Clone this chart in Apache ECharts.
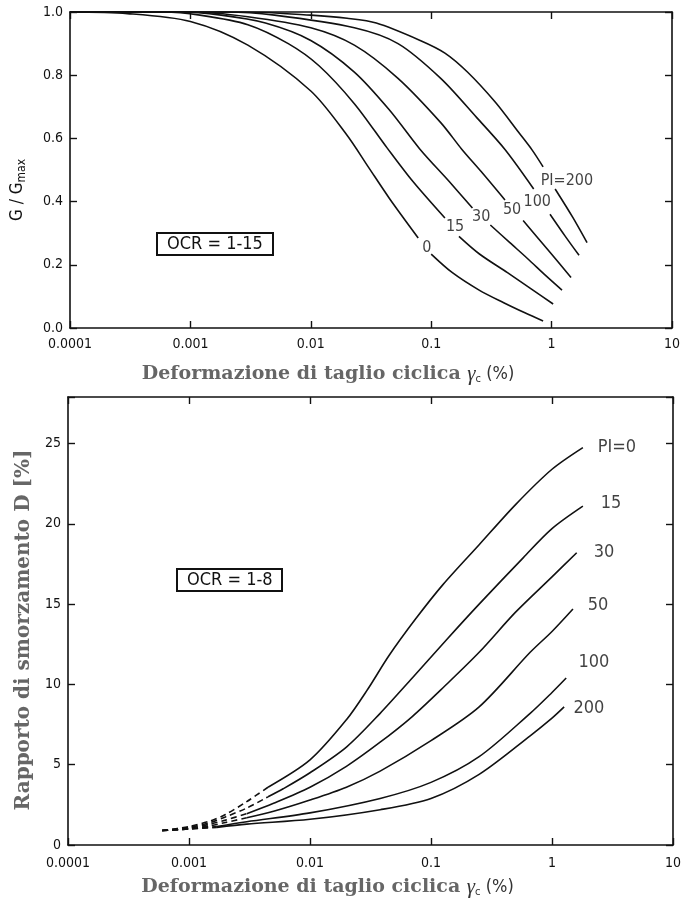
<!DOCTYPE html>
<html>
<head>
<meta charset="utf-8">
<script src="https://cdn.jsdelivr.net/npm/echarts@6/dist/echarts.min.js"></script>
<style>
  html, body { margin: 0; padding: 0; background: #fff; }
  #main { width: 690px; height: 907px; }
</style>
</head>
<body>
<div id="main"></div>
<script>
// asse x comune: deformazione di taglio ciclica (%)
var strainLabels = ['0.0001', '0.001', '0.01', '0.1', '1', '10'];

// --- G/Gmax (grafico in alto): tratto prima e dopo l'etichetta PI ---
var modPI0a = [[0.0001, 1.0], [0.0003, 0.995], [0.001, 0.97], [0.003, 0.895], [0.01, 0.75], [0.02, 0.61], [0.03, 0.51], [0.045, 0.41], [0.078, 0.285]];
var modPI0b = [[0.1, 0.234], [0.15, 0.175], [0.25, 0.12], [0.4, 0.08], [0.6, 0.048], [0.85, 0.022]];
var modPI15a = [[0.0001, 1.0], [0.0006, 1.0], [0.0012, 0.99], [0.003, 0.96], [0.0065, 0.90], [0.0117, 0.83], [0.023, 0.71], [0.043, 0.57], [0.07, 0.465], [0.13, 0.348]];
var modPI15b = [[0.17, 0.29], [0.25, 0.235], [0.43, 0.175], [0.7, 0.12], [1.03, 0.076]];
var modPI30a = [[0.0001, 1.0], [0.0008, 1.0], [0.0018, 0.99], [0.0042, 0.965], [0.01, 0.91], [0.023, 0.81], [0.045, 0.69], [0.081, 0.565], [0.14, 0.465], [0.22, 0.38]];
var modPI30b = [[0.31, 0.326], [0.45, 0.27], [0.63, 0.22], [0.9, 0.165], [1.22, 0.12]];
var modPI50a = [[0.0001, 1.0], [0.001, 1.0], [0.003, 0.985], [0.01, 0.95], [0.023, 0.895], [0.053, 0.79], [0.12, 0.65], [0.18, 0.565], [0.26, 0.495], [0.41, 0.405]];
var modPI50b = [[0.58, 0.34], [0.92, 0.25], [1.45, 0.16]];
var modPI100a = [[0.0001, 1.0], [0.002, 1.0], [0.005, 0.99], [0.023, 0.95], [0.053, 0.90], [0.12, 0.79], [0.24, 0.665], [0.41, 0.565], [0.71, 0.44]];
var modPI100b = [[0.97, 0.36], [1.3, 0.29], [1.69, 0.23]];
var modPI200a = [[0.0001, 1.0], [0.003, 1.0], [0.01, 0.99], [0.02, 0.98], [0.035, 0.965], [0.081, 0.91], [0.13, 0.87], [0.2, 0.81], [0.34, 0.715], [0.53, 0.62], [0.69, 0.563], [0.85, 0.51]];
var modPI200b = [[1.07, 0.44], [1.5, 0.35], [1.97, 0.27]];
var modLabels = ['0', '15', '30', '50', '100', 'PI=200'];
var modLabelAt = [[0.092, 0.253], [0.158, 0.32], [0.26, 0.351], [0.47, 0.373], [0.76, 0.40], [1.34, 0.465]];

// --- smorzamento D % (grafico in basso): tratto tratteggiato + continuo ---
var dampPI0a = [[0.0006, 0.9], [0.001, 1.15], [0.0015, 1.5], [0.002, 1.9], [0.003, 2.7], [0.0045, 3.6]];
var dampPI0b = [[0.0045, 3.6], [0.01, 5.3], [0.02, 7.8], [0.03, 9.7], [0.045, 11.8], [0.075, 14.1], [0.125, 16.2], [0.25, 18.7], [0.5, 21.2], [1.0, 23.4], [1.8, 24.75]];
var dampPI15a = [[0.0006, 0.9], [0.001, 1.1], [0.0015, 1.4], [0.002, 1.75], [0.003, 2.3], [0.0045, 3.0]];
var dampPI15b = [[0.0045, 3.0], [0.006, 3.5], [0.01, 4.5], [0.02, 6.1], [0.038, 8.2], [0.07, 10.4], [0.135, 12.8], [0.25, 15.0], [0.58, 17.9], [1.0, 19.7], [1.8, 21.1]];
var dampPI30a = [[0.0006, 0.9], [0.001, 1.05], [0.0015, 1.3], [0.002, 1.55], [0.003, 1.95]];
var dampPI30b = [[0.003, 1.95], [0.005, 2.6], [0.01, 3.6], [0.02, 4.9], [0.038, 6.4], [0.07, 8.0], [0.13, 9.9], [0.25, 12.0], [0.5, 14.5], [1.0, 16.7], [1.6, 18.2]];
var dampPI50a = [[0.0006, 0.9], [0.001, 1.0], [0.0015, 1.2], [0.002, 1.4], [0.003, 1.7]];
var dampPI50b = [[0.003, 1.7], [0.005, 2.1], [0.01, 2.8], [0.02, 3.6], [0.038, 4.6], [0.1, 6.5], [0.25, 8.6], [0.66, 12.0], [1.0, 13.3], [1.49, 14.7]];
var dampPI100a = [[0.0006, 0.9], [0.001, 1.0], [0.0017, 1.15]];
var dampPI100b = [[0.0017, 1.15], [0.003, 1.45], [0.01, 2.0], [0.038, 2.9], [0.1, 3.9], [0.25, 5.5], [0.66, 8.2], [1.0, 9.5], [1.31, 10.4]];
var dampPI200a = [[0.0006, 0.9], [0.001, 1.0], [0.0017, 1.1]];
var dampPI200b = [[0.0017, 1.1], [0.003, 1.3], [0.01, 1.6], [0.038, 2.2], [0.1, 2.9], [0.25, 4.4], [0.66, 6.8], [1.0, 7.9], [1.26, 8.6]];
var dampLabels = ['PI=0', '15', '30', '50', '100', '200'];
var dampLabelAt = [[3.44, 24.75], [3.07, 21.3], [2.69, 18.2], [2.4, 14.9], [2.22, 11.4], [2.02, 8.5]];

var tickFont = "'Liberation Sans Narrow', 'DejaVu Sans Condensed', 'Liberation Sans', sans-serif";
var titleFont = "'DejaVu Serif', 'Liberation Serif', serif";
var ink = '#111';

function strainLabel(v) {
  var i = Math.round(Math.log10(v)) + 4;
  return strainLabels[i] || '';
}

function logAxis(grid, pos, withLabel, margin) {
  return {
    type: 'log', logBase: 10, gridIndex: grid, position: pos,
    min: 0.0001, max: 10,
    axisLine: { show: true, onZero: false, lineStyle: { color: ink, width: 1.6 } },
    axisTick: { show: true, inside: true, length: 7, lineStyle: { color: ink, width: 1.4 } },
    minorTick: { show: false },
    splitLine: { show: false },
    axisLabel: { show: withLabel, formatter: strainLabel, color: ink, fontSize: 14, fontFamily: tickFont, margin: margin }
  };
}

function valAxis(grid, pos, max, step, fmt, withLabel) {
  return {
    type: 'value', gridIndex: grid, position: pos,
    min: 0, max: max, interval: step,
    axisLine: { show: true, onZero: false, lineStyle: { color: ink, width: 1.6 } },
    axisTick: { show: true, inside: true, length: 7, lineStyle: { color: ink, width: 1.4 } },
    splitLine: { show: false },
    axisLabel: { show: withLabel, formatter: fmt, color: ink, fontSize: 14, fontFamily: tickFont, margin: 7 }
  };
}

var xTitle = {
  t: { fontFamily: titleFont, fontWeight: 'bold', fontSize: 19, color: '#666' },
  g: { fontFamily: 'serif', fontStyle: 'italic', fontSize: 21, color: '#333' },
  s: { fontFamily: tickFont, fontSize: 11, color: '#333', padding: [11, 0, 0, 0] },
  p: { fontFamily: tickFont, fontSize: 18, color: '#333' }
};

var xAxes = [logAxis(0, 'bottom', true, 9), logAxis(0, 'top', false, 8), logAxis(1, 'bottom', true, 11), logAxis(1, 'top', false, 8)];
xAxes[0].name = '{t|Deformazione di taglio ciclica }{g|γ}{s|c}{p| (%)}';
xAxes[2].name = xAxes[0].name;
[0, 2].forEach(function (i) {
  xAxes[i].nameLocation = 'middle';
  xAxes[i].nameTextStyle = { rich: xTitle, padding: [0, 86, 0, 0] };
});
xAxes[0].nameGap = 35;
xAxes[2].nameGap = 31;

var yAxes = [
  valAxis(0, 'left', 1, 0.2, function (v) { return v.toFixed(1); }, true),
  valAxis(0, 'right', 1, 0.2, null, false),
  valAxis(1, 'left', 27.9, 5, function (v) { return v % 5 === 0 ? String(v) : ''; }, true),
  valAxis(1, 'right', 27.9, 5, null, false)
];
yAxes[0].name = 'G / G{s|max}';
yAxes[0].nameLocation = 'middle';
yAxes[0].nameGap = 42;
yAxes[0].nameTextStyle = {
  fontFamily: tickFont, fontSize: 17, color: ink, padding: [0, 40, 0, 0],
  rich: { s: { fontFamily: tickFont, fontSize: 12, color: ink, padding: [9, 0, 0, 0] } }
};
yAxes[2].name = 'Rapporto di smorzamento D [%]';
yAxes[2].nameLocation = 'middle';
yAxes[2].nameGap = 34;
yAxes[2].nameTextStyle = { fontFamily: titleFont, fontWeight: 'bold', fontSize: 20, color: '#666', padding: [0, 18, 0, 0] };

function brokenLine(upper, lower, grid) {
  return {
    type: 'line', xAxisIndex: grid * 2, yAxisIndex: grid * 2,
    data: upper.concat([[lower[0][0], null]], lower),
    connectNulls: false, smooth: 0.3, showSymbol: false, silent: true,
    lineStyle: { color: ink, width: 1.6 }
  };
}

function part(data, dashed) {
  return {
    type: 'line', xAxisIndex: 2, yAxisIndex: 2,
    data: data, smooth: 0.3, showSymbol: false, silent: true,
    lineStyle: { color: ink, width: 1.6, type: dashed ? [6, 4] : 'solid' }
  };
}

function labelSeries(at, names, grid, size) {
  return {
    type: 'scatter', xAxisIndex: grid * 2, yAxisIndex: grid * 2,
    symbolSize: 0, silent: true,
    data: at.map(function (p, i) { return { value: p, name: names[i] }; }),
    label: { show: true, position: 'inside', formatter: '{b}', color: ink, fontSize: size, fontFamily: tickFont }
  };
}

var series = [
  brokenLine(modPI0a, modPI0b, 0),
  brokenLine(modPI15a, modPI15b, 0),
  brokenLine(modPI30a, modPI30b, 0),
  brokenLine(modPI50a, modPI50b, 0),
  brokenLine(modPI100a, modPI100b, 0),
  brokenLine(modPI200a, modPI200b, 0),
  labelSeries(modLabelAt, modLabels, 0, 16),
  part(dampPI0a, true), part(dampPI0b, false),
  part(dampPI15a, true), part(dampPI15b, false),
  part(dampPI30a, true), part(dampPI30b, false),
  part(dampPI50a, true), part(dampPI50b, false),
  part(dampPI100a, true), part(dampPI100b, false),
  part(dampPI200a, true), part(dampPI200b, false),
  labelSeries(dampLabelAt, dampLabels, 1, 18)
];

var boxStyle = { fontFamily: tickFont, fontSize: 18, fontWeight: 'normal', color: ink };

var myChart = echarts.init(document.getElementById('main'));
var option = {
  backgroundColor: '#fff',
  animation: false,
  title: [
    { text: 'OCR = 1-15', left: 157, top: 233, padding: [2, 10], borderColor: ink, borderWidth: 2, textStyle: boxStyle },
    { text: 'OCR = 1-8', left: 177, top: 569, padding: [2, 10], borderColor: ink, borderWidth: 2, textStyle: boxStyle }
  ],
  grid: [
    { left: 70, right: 18, top: 12, height: 316 },
    { left: 68, right: 17, top: 397, height: 448 }
  ],
  xAxis: xAxes,
  yAxis: yAxes,
  series: series
};
myChart.setOption(option);
</script>
</body>
</html>
